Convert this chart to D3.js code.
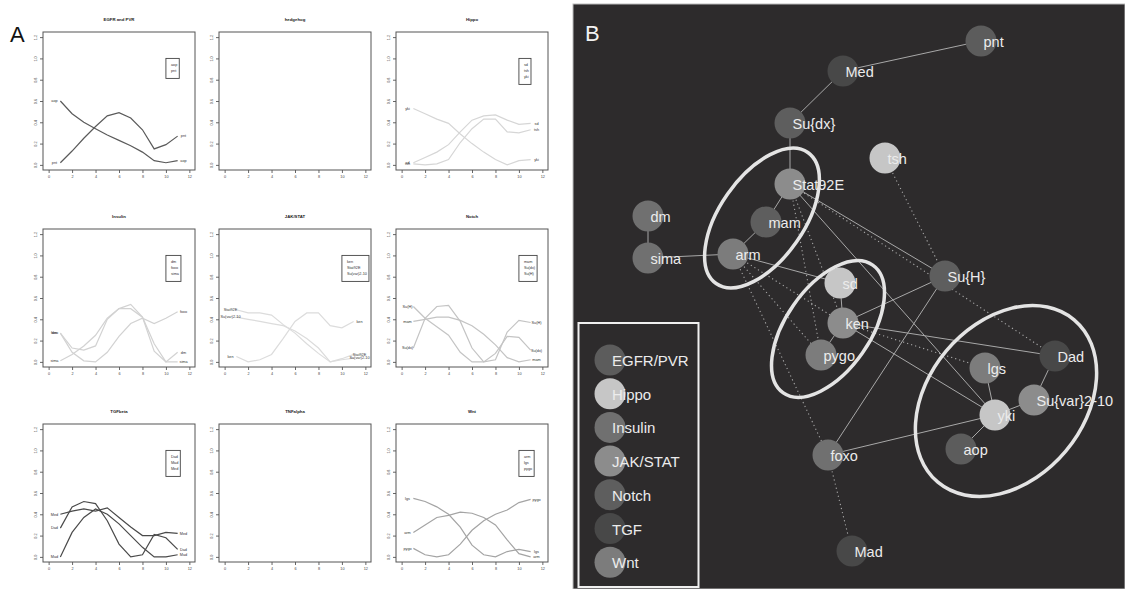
<!DOCTYPE html>
<html>
<head>
<meta charset="utf-8">
<script src="https://cdn.jsdelivr.net/npm/d3@7"></script>
<style>
  body { margin: 0; background: #fff; }
  text { font-family: "Liberation Sans", Arial, sans-serif; }
</style>
</head>
<body>
<div id="chart"></div>
<script>
// ---- panel A data: expression profiles over time ----
const days = [1, 2, 3, 4, 5, 6, 7, 8, 9, 10, 11];
const xTicks = [0, 2, 4, 6, 8, 10, 12];
const yTicks = [0, 0.2, 0.4, 0.6, 0.8, 1.0, 1.2];

const aop = [0.60, 0.48, 0.40, 0.34, 0.28, 0.23, 0.18, 0.12, 0.04, 0.02, 0.04];
const pnt = [0.02, 0.13, 0.25, 0.36, 0.46, 0.49, 0.44, 0.33, 0.15, 0.19, 0.27];
const sd = [0.02, 0.07, 0.12, 0.19, 0.31, 0.42, 0.46, 0.47, 0.42, 0.38, 0.39];
const tsh = [0.01, 0.00, 0.01, 0.05, 0.21, 0.34, 0.43, 0.43, 0.31, 0.30, 0.33];
const yki = [0.53, 0.48, 0.43, 0.39, 0.29, 0.20, 0.12, 0.05, 0.00, 0.04, 0.05];
const dm = [0.27, 0.13, 0.11, 0.15, 0.40, 0.50, 0.50, 0.42, 0.10, 0.00, 0.09];
const foxo = [0.27, 0.09, 0.01, 0.00, 0.09, 0.24, 0.36, 0.41, 0.36, 0.41, 0.47];
const sima = [0.01, 0.07, 0.15, 0.25, 0.41, 0.50, 0.54, 0.42, 0.17, 0.00, 0.00];
const ken = [0.05, 0.00, 0.02, 0.07, 0.22, 0.38, 0.46, 0.46, 0.34, 0.32, 0.38];
const stat92E = [0.49, 0.46, 0.46, 0.44, 0.35, 0.27, 0.17, 0.08, 0.00, 0.03, 0.07];
const suVar = [0.42, 0.40, 0.38, 0.36, 0.34, 0.29, 0.22, 0.13, 0.00, 0.02, 0.035];
const mam = [0.38, 0.40, 0.42, 0.42, 0.39, 0.34, 0.26, 0.16, 0.04, 0.00, 0.02];
const suDx = [0.13, 0.41, 0.52, 0.53, 0.38, 0.13, 0.00, 0.08, 0.24, 0.23, 0.11];
const suH = [0.52, 0.41, 0.33, 0.25, 0.09, 0.00, 0.00, 0.02, 0.28, 0.39, 0.37];
const dad = [0.27, 0.47, 0.52, 0.50, 0.34, 0.12, 0.00, 0.02, 0.21, 0.18, 0.07];
const mad = [0.00, 0.23, 0.37, 0.45, 0.40, 0.31, 0.20, 0.09, 0.00, 0.00, 0.02];
const med = [0.40, 0.43, 0.45, 0.43, 0.46, 0.37, 0.28, 0.20, 0.20, 0.23, 0.22];
const arm = [0.23, 0.30, 0.37, 0.39, 0.42, 0.41, 0.37, 0.30, 0.16, 0.03, 0.00];
const lgs = [0.55, 0.52, 0.47, 0.40, 0.28, 0.11, 0.02, 0.00, 0.05, 0.07, 0.05];
const pygo = [0.08, 0.02, 0.00, 0.02, 0.12, 0.25, 0.34, 0.40, 0.44, 0.51, 0.54];

const panelTitles = ["EGFR and PVR", "hedgehog", "Hippo", "Insulin", "JAK/STAT", "Notch", "TGFbeta", "TNFalpha", "Wnt"];
const panelGenes = [
  ["aop", "pnt"], [], ["sd", "tsh", "yki"],
  ["dm", "foxo", "sima"], ["ken", "Stat92E", "Su(var)2-10"], ["mam", "Su(dx)", "Su(H)"],
  ["Dad", "Mad", "Med"], [], ["arm", "lgs", "pygo"]
];
const panelSeries = [
  [aop, pnt], [], [sd, tsh, yki],
  [dm, foxo, sima], [ken, stat92E, suVar], [mam, suDx, suH],
  [dad, mad, med], [], [arm, lgs, pygo]
];
const panelLineColor = ["#5a5a5a", "#555", "#d6d6d6", "#d2d2d2", "#dcdcdc", "#c4c4c4", "#4a4a4a", "#555", "#a4a4a4"];

// ---- panel B data: network ----
const pathways = ["EGFR/PVR", "Hippo", "Insulin", "JAK/STAT", "Notch", "TGF", "Wnt"];
const pathwayFill = ["#5c5c5c", "#c6c6c6", "#707070", "#8c8c8c", "#5e5e5e", "#484848", "#7c7c7c"];

const nodeNames = ["pnt", "Med", "Su{dx}", "Stat92E", "mam", "arm", "dm", "sima", "tsh", "Su{H}",
  "sd", "ken", "pygo", "lgs", "Dad", "Su{var}2-10", "yki", "aop", "foxo", "Mad"];
const nodePathway = ["EGFR/PVR", "TGF", "Notch", "JAK/STAT", "Notch", "Wnt", "Insulin", "Insulin", "Hippo", "Notch",
  "Hippo", "JAK/STAT", "Wnt", "Wnt", "TGF", "JAK/STAT", "Hippo", "EGFR/PVR", "Insulin", "TGF"];
// layout coordinates of the network (panel units)
const nodeLayoutX = [408, 270, 217, 217, 193, 160, 75, 75, 312, 372, 267, 270, 248, 412, 482, 461, 422, 388, 255, 279];
const nodeLayoutY = [37, 67, 119, 180, 218, 250, 212, 254, 154, 272, 279, 319, 351, 364, 352, 396, 411, 445, 451, 547];

const solidEdges = [
  ["pnt", "Med"], ["Med", "Su{dx}"], ["Su{dx}", "Stat92E"], ["Stat92E", "mam"], ["mam", "arm"],
  ["dm", "sima"], ["sima", "arm"], ["arm", "sd"], ["Stat92E", "Su{H}"], ["Stat92E", "yki"],
  ["Su{H}", "ken"], ["Su{H}", "foxo"], ["ken", "Dad"], ["ken", "yki"], ["foxo", "yki"],
  ["lgs", "yki"], ["yki", "Su{var}2-10"], ["Su{var}2-10", "Dad"], ["yki", "aop"], ["sd", "ken"], ["ken", "pygo"]
];
const dottedEdges = [
  ["tsh", "Su{H}"], ["Stat92E", "Dad"], ["Stat92E", "pygo"], ["Stat92E", "ken"], ["arm", "pygo"],
  ["arm", "ken"], ["arm", "foxo"], ["foxo", "Mad"], ["ken", "lgs"]
];
// groups circled in the network
const groupCx = [189, 255, 433];
const groupCy = [214, 325, 397];
const groupRx = [42, 42, 78];
const groupRy = [80, 78, 106];
const groupAngle = [35, 35, 40];

const W = 1125, H = 589;
const svg = d3.select("#chart").append("svg")
  .attr("width", W).attr("height", H);

// ================= Panel A =================
svg.append("text").attr("x", 10).attr("y", 42)
  .attr("font-size", 22).attr("fill", "#111").text("A");

const colLeft = [43, 219, 396], rowTop = [32, 229, 424];
const boxW = 152, boxH = 138;

panelTitles.forEach((title, i) => {
  const c = i % 3, r = Math.floor(i / 3);
  const left = colLeft[c], top = rowTop[r];
  const x = d3.scaleLinear().domain([-0.48, 12.48]).range([left, left + boxW]);
  const y = d3.scaleLinear().domain([-0.048, 1.248]).range([top + boxH, top]);
  const g = svg.append("g");

  g.append("text")
    .attr("x", left + boxW / 2).attr("y", top - 11)
    .attr("text-anchor", "middle").attr("font-size", 4.3).attr("font-weight", "bold")
    .attr("fill", "#222").text(title);

  const xa = g.append("g").attr("transform", `translate(0,${top + boxH})`)
    .call(d3.axisBottom(x).tickValues(xTicks).tickSize(3).tickPadding(2).tickFormat(d3.format("d")));
  const ya = g.append("g").attr("transform", `translate(${left},0)`)
    .call(d3.axisLeft(y).tickValues(yTicks).tickSize(3).tickFormat(d3.format(".1f")));
  [xa, ya].forEach(a => {
    a.select(".domain").remove();
    a.selectAll("line").attr("stroke", "#666");
    a.selectAll("text").attr("font-size", 3.8).attr("fill", "#444");
  });
  ya.selectAll("text")
    .attr("x", 0).attr("dy", 0).attr("text-anchor", "middle")
    .attr("transform", "translate(-6,0) rotate(-90)");

  g.append("rect")
    .attr("x", left).attr("y", top).attr("width", boxW).attr("height", boxH)
    .attr("fill", "none").attr("stroke", "#555").attr("stroke-width", 1);

  const genes = panelGenes[i];
  if (!genes.length) return;
  const col = panelLineColor[i];
  const line = d3.line().x((d, j) => x(days[j])).y(d => y(d));

  panelSeries[i].forEach((s, k) => {
    g.append("path").attr("d", line(s))
      .attr("fill", "none").attr("stroke", col).attr("stroke-width", 1.2);
    g.append("text").attr("x", x(0.5)).attr("y", y(s[0])).attr("dy", "0.35em")
      .attr("text-anchor", "middle").attr("font-size", 3.8).attr("fill", "#333").text(genes[k]);
    g.append("text").attr("x", x(11.5)).attr("y", y(s[s.length - 1])).attr("dy", "0.35em")
      .attr("text-anchor", "middle").attr("font-size", 3.8).attr("fill", "#333").text(genes[k]);
  });

  // legend box
  const lx = x(10), ly = y(1.0);
  const lg = g.append("g");
  const lbox = lg.append("rect").attr("x", lx).attr("y", ly)
    .attr("height", genes.length * 6 + 8).attr("fill", "#fff")
    .attr("stroke", "#444").attr("stroke-width", 0.9);
  let maxW = 0;
  genes.forEach((name, k) => {
    const t = lg.append("text").attr("x", lx + 5).attr("y", ly + 6.7 + k * 6).attr("dy", "0.35em")
      .attr("font-size", 3.8).attr("fill", "#333").text(name);
    maxW = Math.max(maxW, t.node().getComputedTextLength());
  });
  lbox.attr("width", maxW + 7);
});

// ================= Panel B =================
const bx0 = 573, by0 = 4, bW = W - bx0, bH = H - by0;
const px = d3.scaleLinear().domain([0, bW]).range([bx0, bx0 + bW]);
const py = d3.scaleLinear().domain([0, bH]).range([by0, by0 + bH]);
const fillScale = d3.scaleOrdinal().domain(pathways).range(pathwayFill);

svg.append("rect").attr("x", bx0).attr("y", by0).attr("width", bW).attr("height", bH)
  .attr("fill", "#2d2b2c").attr("stroke", "#bbb").attr("stroke-width", 1);

svg.append("text").attr("x", 585).attr("y", 41)
  .attr("font-size", 22).attr("fill", "#f2f2f2").text("B");

const nodes = nodeNames.map((n, i) => ({ name: n, pathway: nodePathway[i], x: px(nodeLayoutX[i]), y: py(nodeLayoutY[i]) }));
const byName = new Map(nodes.map(n => [n.name, n]));

const edgeG = svg.append("g");
edgeG.selectAll("line.solid").data(solidEdges).join("line")
  .attr("class", "solid")
  .attr("x1", d => byName.get(d[0]).x).attr("y1", d => byName.get(d[0]).y)
  .attr("x2", d => byName.get(d[1]).x).attr("y2", d => byName.get(d[1]).y)
  .attr("stroke", "#a8a8a8").attr("stroke-width", 1);
edgeG.selectAll("line.dot").data(dottedEdges).join("line")
  .attr("class", "dot")
  .attr("x1", d => byName.get(d[0]).x).attr("y1", d => byName.get(d[0]).y)
  .attr("x2", d => byName.get(d[1]).x).attr("y2", d => byName.get(d[1]).y)
  .attr("stroke", "#a8a8a8").attr("stroke-width", 1.1).attr("stroke-dasharray", "1.2,3");

const nodeG = svg.append("g").selectAll("g").data(nodes).join("g")
  .attr("transform", d => `translate(${d.x},${d.y})`);
nodeG.append("circle").attr("r", 15.5).attr("fill", d => fillScale(d.pathway));
nodeG.append("text").attr("x", 2.5).attr("y", 5.5)
  .attr("font-size", 14.5).attr("fill", "#ececec").text(d => d.name);

// group ellipses
svg.append("g").selectAll("ellipse").data(groupCx).join("ellipse")
  .attr("transform", (d, i) => `translate(${px(d)},${py(groupCy[i])}) rotate(${groupAngle[i]})`)
  .attr("rx", (d, i) => groupRx[i]).attr("ry", (d, i) => groupRy[i])
  .attr("fill", "none").attr("stroke", "#e4e4e4").attr("stroke-width", 3.5);

// legend
svg.append("rect").attr("x", 578.5).attr("y", 323).attr("width", 120).attr("height", 264)
  .attr("fill", "none").attr("stroke", "#f0f0f0").attr("stroke-width", 2);
const leg = svg.append("g").selectAll("g").data(pathways).join("g")
  .attr("transform", (d, i) => `translate(610,${360 + i * 33.7})`);
leg.append("circle").attr("r", 15.5).attr("fill", d => fillScale(d));
leg.append("text").attr("x", 2).attr("y", 6).attr("font-size", 15)
  .attr("fill", "#ececec").text(d => d);
</script>
</body>
</html>
